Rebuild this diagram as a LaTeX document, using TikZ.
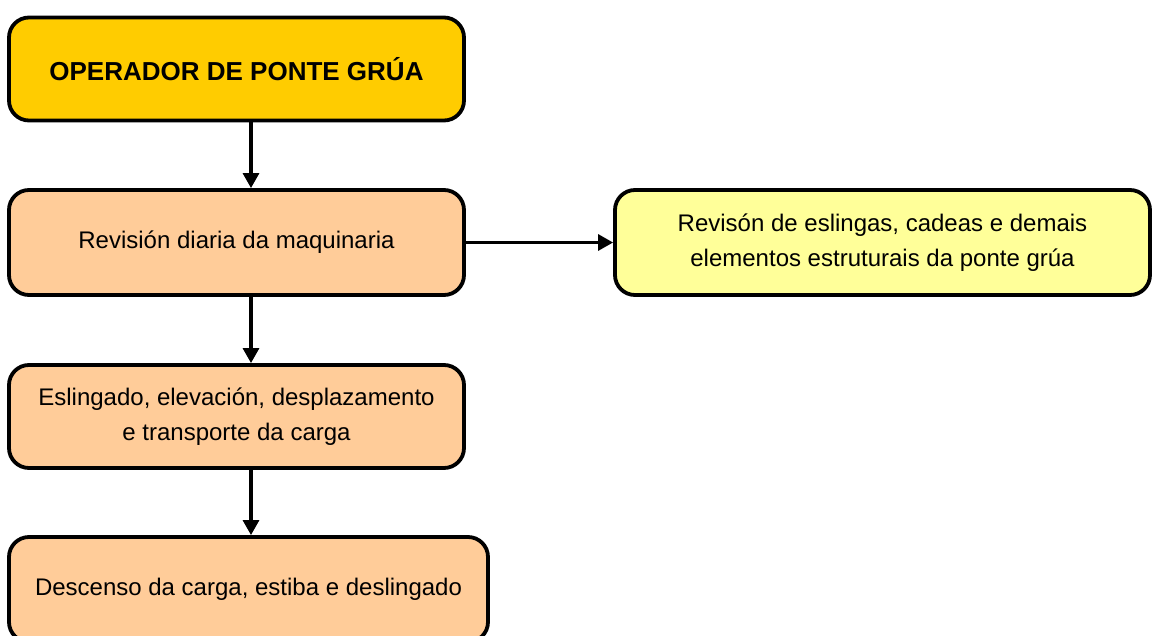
\documentclass[tikz,border=0pt]{standalone}
\usepackage{fontspec}
\setmainfont{Liberation Sans}
\usetikzlibrary{arrows.meta}
\definecolor{titleyellow}{HTML}{FFCC00}
\definecolor{peach}{HTML}{FFCC99}
\definecolor{lightyellow}{HTML}{FFFF99}
\tikzset{
  box/.style={draw=black, line width=3.8pt, rounded corners=20pt, inner sep=0pt,
    align=center, font=\fontsize{24}{35}\selectfont},
  conn/.style={line width=3.2pt, -{Triangle[length=15pt,width=16pt]}}
}
\begin{document}
\begin{tikzpicture}[x=1pt,y=-1pt]
\useasboundingbox (0,0) rectangle (1152,635);
\clip (0,0) rectangle (1152,635);
\node[box, fill=titleyellow, minimum width=455pt, minimum height=103pt, font=\fontsize{26}{35}\selectfont\bfseries] (t) at (236.5,69) {OPERADOR DE PONTE GRÚA};
\node[box, fill=peach, minimum width=455pt, minimum height=105pt] (r) at (236.5,242.5) {Revisión diaria da maquinaria};
\node[box, fill=lightyellow, minimum width=535pt, minimum height=105pt] (e) at (882.5,242.5) {Revisón de eslingas, cadeas e demais\\elementos estruturais da ponte grúa};
\node[box, fill=peach, minimum width=455pt, minimum height=103pt] (s) at (236.5,416.5) {Eslingado, elevación, desplazamento\\e transporte da carga};
\node[box, fill=peach, minimum width=479pt, minimum height=105pt] (d) at (248.5,589.5) {Descenso da carga, estiba e deslingado};
\draw[conn] (t.south -| 251,0) -- (r.north -| 251,0);
\draw[conn] (r.east) -- (e.west);
\draw[conn] (r.south -| 251,0) -- (s.north -| 251,0);
\draw[conn] (s.south -| 251,0) -- (d.north -| 251,0);
\end{tikzpicture}
\end{document}
